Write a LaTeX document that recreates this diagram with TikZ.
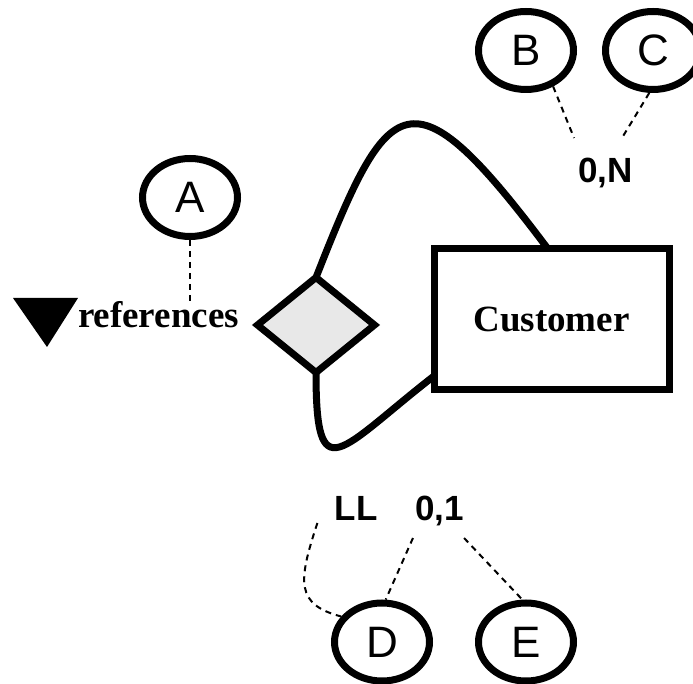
\documentclass[tikz,border=0pt]{standalone}
\usepackage{fontspec}
\setmainfont{Liberation Serif}
\newfontfamily\arialfont{Liberation Sans}
\usetikzlibrary{shapes.geometric}
\definecolor{relgray}{RGB}{232,232,232}

\begin{document}
\begin{tikzpicture}[x=1pt,y=1pt,
  attr/.style={shape=ellipse,draw,line width=7pt,minimum width=95pt,minimum height=78pt,inner sep=0pt,
    font=\arialfont\fontsize{44}{48}\selectfont},
  card/.style={anchor=base,inner sep=0pt,font=\arialfont\bfseries\fontsize{35}{38}\selectfont},
  link/.style={line width=2pt,dash pattern=on 6pt off 5pt},
  role/.style={line width=7pt}]

  \useasboundingbox (0,0) rectangle (693,683);

  \node (cust) at (551.5,363.5) [shape=rectangle,draw,line width=7pt,minimum width=235pt,minimum height=141pt,
    outer sep=0pt,font=\bfseries\fontsize{37}{40}\selectfont] {Customer};
  \node (rel) at (316,358) [shape=diamond,draw,line width=7pt,fill=relgray,minimum width=117pt,minimum height=95pt,
    inner sep=0pt,outer sep=0pt] {};
  \node (refs) at (158.5,355) [anchor=base,inner sep=0pt,font=\bfseries\fontsize{37}{40}\selectfont] {references};
  \fill (13,385) -- (78,385) -- (47,336) -- cycle;

  \node (A) at (190,485.5) [attr] {A};
  \node (B) at (526,632.5) [attr] {B};
  \node (C) at (653,632.5) [attr] {C};
  \node (D) at (382,41) [attr] {D};
  \node (E) at (526,41) [attr] {E};

  \node (cardN) at (605.5,500) [card] {0,N};
  \node (ll) at (356,163) [card] {LL};
  \node (card01) at (439.5,163) [card] {0,1};

  \draw [role] (rel.north) .. controls +(73,186) and +(-138,184) .. ([xshift=-3.5pt]cust.north);
  \draw [role] (rel.south) .. controls +(0,-120) and +(-95,-74) .. ([yshift=14pt]cust.south west);

  \draw [link, shorten >=-4pt] (A.south) -- (A.south |- refs.north);
  \draw [link] (B.-53) -- ([shift={(-4,45)}]cardN.base west);
  \draw [link] (C.-95) -- ([shift={(-11,45)}]cardN.base east);
  \draw [link] ([shift={(-17,-3)}]ll.base west) .. controls +(-20,-60) and +(-45,12) .. (D.148);
  \draw [link] ([shift={(-2,-18)}]card01.base west) -- (D.85);
  \draw [link] ([yshift=-18pt]card01.base east) -- (E.95);
\end{tikzpicture}
\end{document}
